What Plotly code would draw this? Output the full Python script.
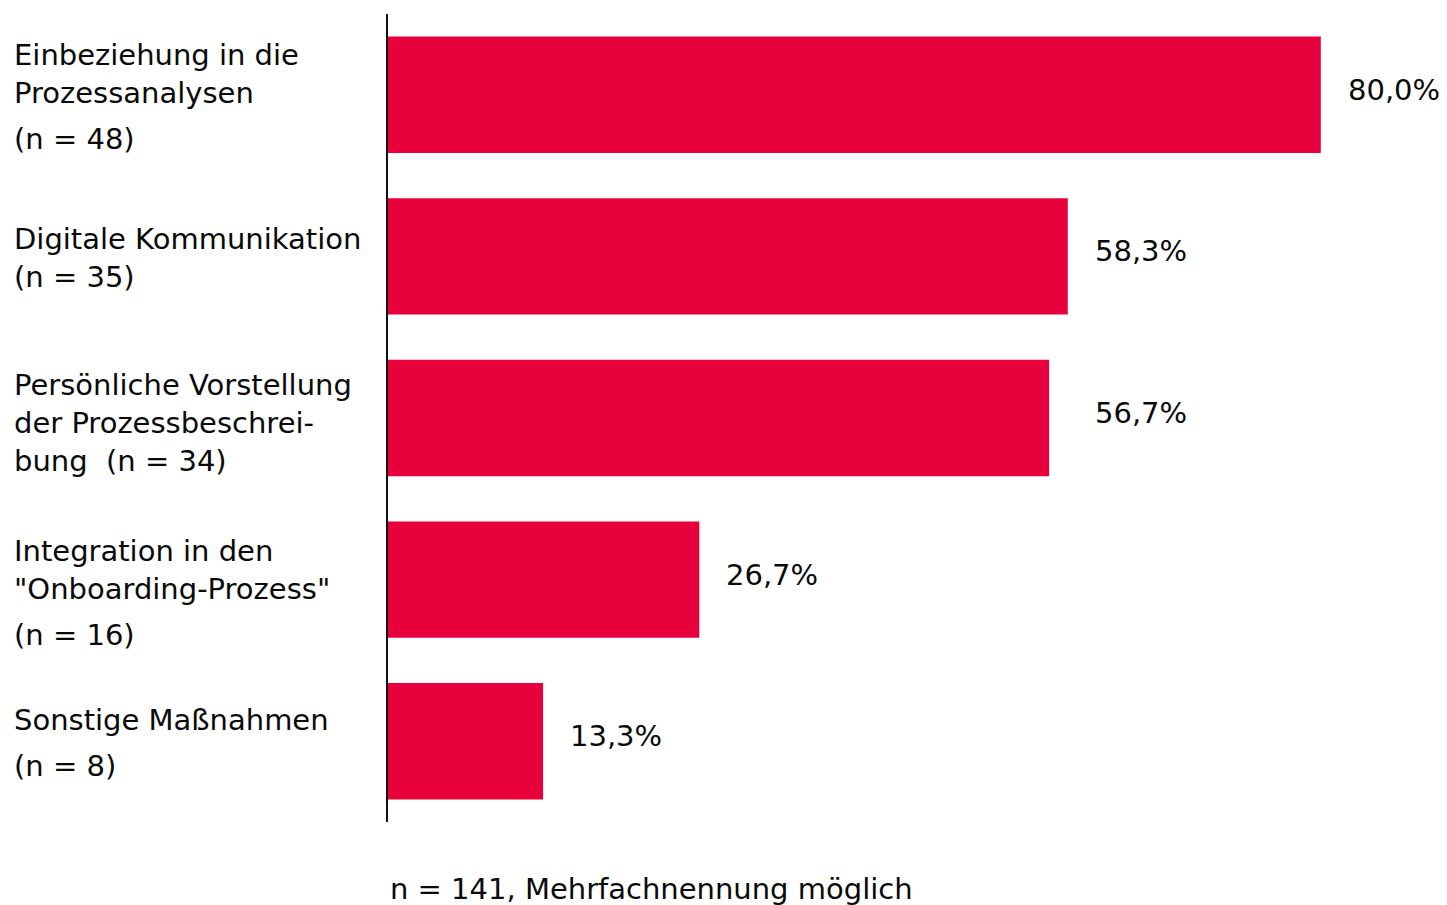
import plotly.graph_objects as go

# Survey categories (label lines) and shares in percent
categories = [
    "Einbeziehung in die<br>Prozessanalysen<br>(n = 48)",
    "Digitale Kommunikation<br>(n = 35)",
    "Persönliche Vorstellung<br>der Prozessbeschrei-<br>bung  (n = 34)",
    "Integration in den<br>\"Onboarding-Prozess\"<br>(n = 16)",
    "Sonstige Maßnahmen<br>(n = 8)",
]
values = [80.0, 58.3, 56.7, 26.7, 13.3]
value_labels = ["80,0%", "58,3%", "56,7%", "26,7%", "13,3%"]
footnote = "n = 141, Mehrfachnennung möglich"

W, H = 1447, 905
M_L, M_R, M_T, M_B = 388, 10, 14, 83
BAR_COLOR = "#E8003D"
FONT = "DejaVu Sans"
FS = 29
TEXT_COLOR = "#0a0a0a"
LINE_H = 38                      # px between label lines
N_GAP = [8, 0, 0, 8, 8]          # extra space before a separate "(n = …)" line
NUDGE = [2, 2, 5, 13, 2]         # block offset below the bar centre, px

ids = list(range(len(categories)))

fig = go.Figure(
    go.Bar(
        x=values,
        y=ids,
        orientation="h",
        marker=dict(color=BAR_COLOR, line=dict(width=0)),
        width=0.72,
        hoverinfo="skip",
    )
)

plot_w = W - M_L - M_R
label_x = (12 - M_L) / plot_w

annotations = []
for i, (cat, v, lab) in enumerate(zip(categories, values, value_labels)):
    lines = cat.split("<br>")
    offs = []
    pos = 0
    for k in range(len(lines)):
        if k > 0:
            pos += LINE_H + (N_GAP[i] if k == len(lines) - 1 else 0)
        offs.append(pos)
    mid = (offs[0] + offs[-1]) / 2
    for line, o in zip(lines, offs):
        annotations.append(dict(
            xref="paper", yref="y", x=label_x, y=i, yshift=-(o - mid + NUDGE[i]),
            text=line, showarrow=False, xanchor="left", yanchor="middle",
            align="left", font=dict(family=FONT, size=FS, color=TEXT_COLOR),
        ))
    # value labels sit right of the bar end; close neighbours share one column
    anchor = v
    if i > 0 and 0 < values[i - 1] - v < 3:
        anchor = values[i - 1]
    annotations.append(dict(
        xref="x", yref="y", x=anchor, y=i, xshift=25, yshift=5,
        text=lab, showarrow=False, xanchor="left", yanchor="middle",
        font=dict(family=FONT, size=FS, color=TEXT_COLOR),
    ))

annotations.append(dict(
    xref="paper", yref="paper", x=(388 - M_L) / plot_w, y=-(889 - (H - M_B)) / (H - M_T - M_B),
    text=footnote, showarrow=False, xanchor="left", yanchor="middle",
    font=dict(family=FONT, size=FS, color=TEXT_COLOR),
))

fig.update_layout(
    width=W, height=H,
    margin=dict(l=M_L, r=M_R, t=M_T, b=M_B),
    paper_bgcolor="white", plot_bgcolor="white",
    showlegend=False,
    bargap=0.28,
    xaxis=dict(range=[0, plot_w / 11.66], visible=False, fixedrange=True),
    yaxis=dict(
        range=[len(categories) - 0.5, -0.5],
        showticklabels=False, ticks="", showgrid=False, zeroline=False,
        showline=True, linecolor="#111111", linewidth=2, fixedrange=True,
    ),
    annotations=annotations,
)

fig.write_html("out.html", config={"displayModeBar": False})
